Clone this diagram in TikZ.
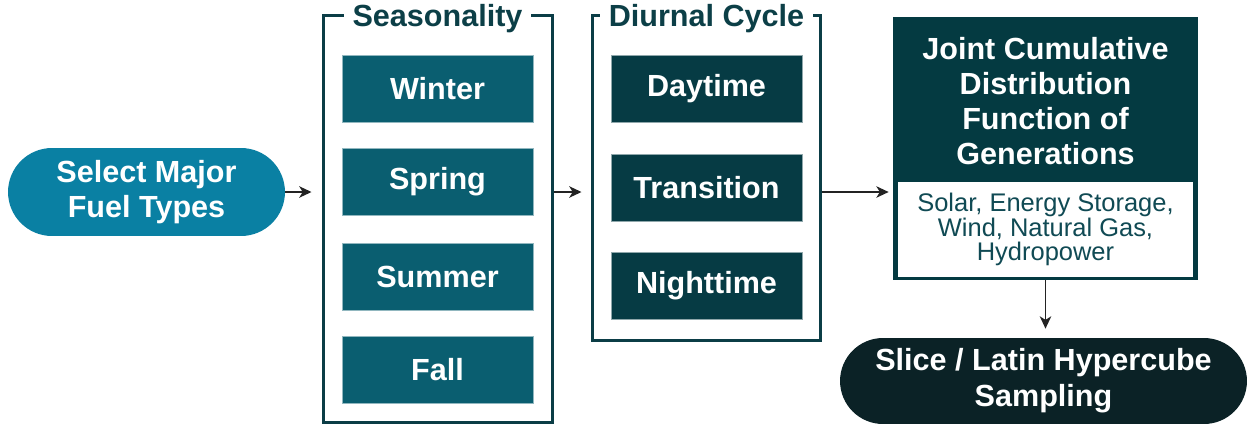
\documentclass[tikz,border=0pt]{standalone}
\usepackage{fontspec}
\setmainfont{Liberation Sans}
\usetikzlibrary{arrows.meta}
\definecolor{fuelblue}{RGB}{10,128,163}
\definecolor{seasonteal}{RGB}{10,94,112}
\definecolor{cycleteal}{RGB}{6,59,68}
\definecolor{jcdfdark}{RGB}{4,58,65}
\definecolor{slicedark}{RGB}{11,34,38}
\definecolor{framedark}{RGB}{11,61,70}
\definecolor{titledark}{RGB}{12,63,71}
\definecolor{listteal}{RGB}{16,74,84}
\definecolor{arrowgray}{RGB}{35,35,35}
\begin{document}
\begin{tikzpicture}[x=0.02cm,y=-0.02cm,
				every node/.style={font=\bfseries\fontsize{17.4}{20}\selectfont,text=white,align=center,inner sep=0pt},
				pill/.style={minimum height=1.76cm,rounded corners=0.88cm},
				seasonbox/.style={fill=seasonteal,draw=seasonteal!45!white,line width=0.4pt,minimum width=3.82cm,minimum height=1.34cm},
				cyclebox/.style={fill=cycleteal,draw=cycleteal!45!white,line width=0.4pt,minimum width=3.82cm,minimum height=1.34cm},
				groupframe/.style={draw=framedark,line width=1.7pt},
				grouptitle/.style={fill=white,text=titledark,inner xsep=5pt,inner ysep=1pt},
				flow/.style={draw=arrowgray,line width=1.1pt,-{Stealth[length=7pt,width=6.5pt,inset=2pt]}}]
\useasboundingbox (0,0) rectangle (1249,427);
\node[pill,fill=fuelblue,minimum width=5.54cm] (fuel) at (146.5,192) {Select Major\\Fuel Types};
\node[groupframe,minimum width=4.6cm,minimum height=8.16cm] (season) at (438,219) {};
\node[grouptitle] (seasontitle) at (437.5,19) {Seasonality};
\node[seasonbox] (winter) at (437.5,88.5) {Winter};
\node[seasonbox] (spring) at (437.5,182) {Spring};
\node[seasonbox] (summer) at (437.5,276.5) {Summer};
\node[seasonbox] (fall) at (437.5,370) {Fall};
\node[groupframe,minimum width=4.58cm,minimum height=6.52cm] (diurnal) at (706.5,178) {};
\node[grouptitle] (diurnaltitle) at (706.5,19) {Diurnal Cycle};
\node[cyclebox] (day) at (706.5,88.5) {Daytime};
\node[cyclebox] (trans) at (706.5,187.5) {Transition};
\node[cyclebox] (night) at (706.5,286) {Nighttime};
\node[fill=jcdfdark,minimum width=6.1cm,minimum height=5.26cm] (jcdf) at (1045.5,148.5) {};
\node (jcdftitle) at (1045.5,101) {Joint Cumulative\\Distribution\\Function of\\Generations};
\node[fill=white,minimum width=5.9cm,minimum height=1.9cm,text=listteal,font=\fontsize{14.5}{14}\selectfont] (fuellist) at (1045.5,229.5) {Solar, Energy Storage,\\Wind, Natural Gas,\\Hydropower};
\node[pill,fill=slicedark,minimum width=8.14cm,minimum height=1.72cm,rounded corners=0.86cm,font=\bfseries\fontsize{17.4}{20.5}\selectfont] (slice) at (1043.5,381) {Slice / Latin Hypercube\\Sampling};
\draw[flow,shorten >=0.2cm] (fuel) -- (fuel -| season.west);
\draw[flow,shorten >=0.18cm] (season.east |- fuel) -- (diurnal.west |- fuel);
\draw[flow,shorten >=0.08cm] (diurnal.east |- fuel) -- (jcdf.west |- fuel);
\draw[flow,shorten >=0.18cm] (jcdf.south) -- (jcdf.south |- slice.north);
\end{tikzpicture}
\end{document}
